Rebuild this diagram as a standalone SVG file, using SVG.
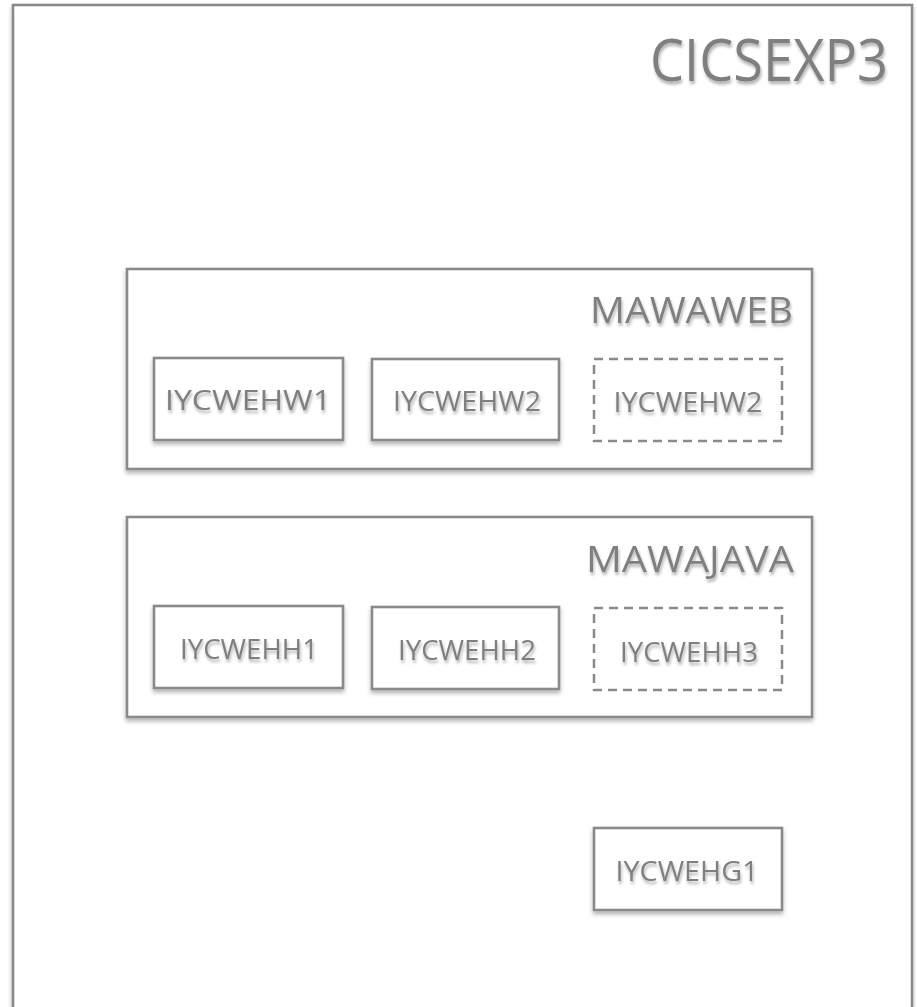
<svg xmlns="http://www.w3.org/2000/svg" width="917" height="1007" viewBox="0 0 917 1007">
<defs>
<filter id="sh" x="-10%" y="-10%" width="120%" height="130%">
<feDropShadow dx="0" dy="3" stdDeviation="2.2" flood-color="#000" flood-opacity="0.3"/>
</filter>
<filter id="tsh" x="-10%" y="-20%" width="120%" height="160%">
<feDropShadow dx="1" dy="3" stdDeviation="1.8" flood-color="#000" flood-opacity="0.3"/>
</filter>
<style>
.box{fill:#fff;stroke:#8a8a8a;stroke-width:2.6;filter:url(#sh)}
.dash{fill:none;stroke:#8a8a8a;stroke-width:2.5;stroke-dasharray:9 6}
.lbl{font-family:"Open Sans","Liberation Sans",sans-serif;fill:#7f7f7f;filter:url(#tsh)}
.big{font-size:58px}
.mid{font-size:37px}
.sm{font-size:28px}
</style>
</defs>
<g id="CICSEXP3">
<rect class="box" x="13" y="5" width="899" height="1020"/>
<text class="lbl big" x="888" y="81" text-anchor="end" textLength="238" lengthAdjust="spacingAndGlyphs">CICSEXP3</text>
</g>
<g id="MAWAWEB">
<rect class="box" x="127" y="269" width="685" height="200"/>
<text class="lbl mid" x="793" y="323" text-anchor="end" textLength="203" lengthAdjust="spacingAndGlyphs">MAWAWEB</text>
</g>
<g id="MAWAJAVA">
<rect class="box" x="127" y="517" width="685" height="200"/>
<text class="lbl mid" x="794" y="572" text-anchor="end" textLength="208" lengthAdjust="spacingAndGlyphs">MAWAJAVA</text>
</g>
<g id="IYCWEHW1">
<rect class="box" x="154" y="358" width="189" height="82"/>
<text class="lbl sm" x="248" y="410" text-anchor="middle" textLength="166" lengthAdjust="spacingAndGlyphs">IYCWEHW1</text>
</g>
<g id="IYCWEHW2">
<rect class="box" x="372" y="359" width="187" height="81"/>
<text class="lbl sm" x="467" y="411" text-anchor="middle" textLength="148" lengthAdjust="spacingAndGlyphs">IYCWEHW2</text>
</g>
<g id="IYCWEHW2b">
<rect class="dash" x="594" y="359" width="188" height="82"/>
<text class="lbl sm" x="688" y="412" text-anchor="middle" textLength="149" lengthAdjust="spacingAndGlyphs">IYCWEHW2</text>
</g>
<g id="IYCWEHH1">
<rect class="box" x="154" y="606" width="189" height="82"/>
<text class="lbl sm" x="249" y="659" text-anchor="middle" textLength="138" lengthAdjust="spacingAndGlyphs">IYCWEHH1</text>
</g>
<g id="IYCWEHH2">
<rect class="box" x="372" y="607" width="187" height="82"/>
<text class="lbl sm" x="467" y="660" text-anchor="middle" textLength="138" lengthAdjust="spacingAndGlyphs">IYCWEHH2</text>
</g>
<g id="IYCWEHH3">
<rect class="dash" x="594" y="608" width="188" height="82"/>
<text class="lbl sm" x="689" y="662" text-anchor="middle" textLength="138" lengthAdjust="spacingAndGlyphs">IYCWEHH3</text>
</g>
<g id="IYCWEHG1">
<rect class="box" x="594" y="828" width="188" height="82"/>
<text class="lbl sm" x="687" y="881" text-anchor="middle" textLength="143" lengthAdjust="spacingAndGlyphs">IYCWEHG1</text>
</g>
<g id="connectors"/>
</svg>
